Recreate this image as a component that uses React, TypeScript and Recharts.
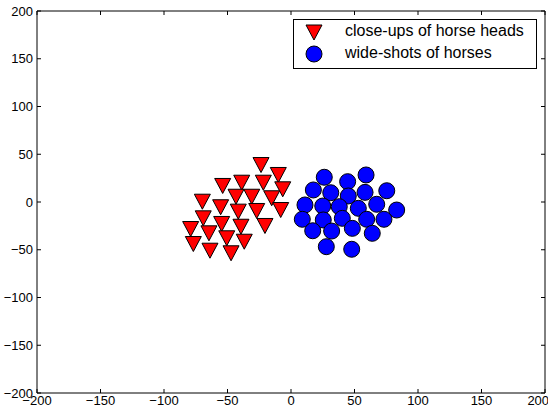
import React from "react";
import {
  ScatterChart,
  Scatter,
  XAxis,
  YAxis,
  Legend,
} from "recharts";

// close-ups of horse heads (red triangles)
const headsX = [-23.6, -10.0, -38.8, -53.8, -21.8, -6.5, -43.3, -30.9, -15.2, -69.8, -55.4, -41.5, -27.0, -8.1, -69.1, -54.6, -39.4, -20.5, -79.0, -64.6, -50.6, -36.8, -76.9, -63.8, -47.2];
const headsY = [38.7, 28.3, 20.2, 16.8, 20.2, 13.3, 5.5, 5.5, 3.9, 0.3, -5.5, -10.1, -9.4, -8.4, -17.1, -23.0, -25.9, -25.1, -28.3, -32.8, -38.0, -41.6, -44.0, -51.0, -53.7];

// wide-shots of horses (blue circles)
const widesX = [26.2, 44.6, 59.1, 17.6, 31.3, 45.1, 58.3, 75.4, 11.0, 25.0, 38.0, 53.0, 67.5, 83.2, 8.9, 25.4, 40.4, 59.6, 73.2, 17.1, 32.0, 48.3, 64.0, 27.8, 47.8];
const widesY = [25.9, 21.3, 28.3, 12.6, 9.7, 6.3, 10.1, 11.8, -3.1, -4.2, -4.9, -6.6, -2.4, -8.4, -18.1, -18.8, -17.1, -18.1, -18.1, -30.1, -30.4, -27.6, -32.8, -46.8, -49.5];

const ticks = [-200, -150, -100, -50, 0, 50, 100, 150, 200];

const headsData = headsX.map((x, i) => ({ x, y: headsY[i] }));
const widesData = widesX.map((x, i) => ({ x, y: widesY[i] }));

const FONT = "'Liberation Sans', Arial, Helvetica, sans-serif";
const fmt = (v: number) => String(v).replace("-", "\u2212");

const Triangle = (props: any) => {
  const { cx, cy } = props;
  const w = 8;
  const h = 7.5;
  return (
    <path
      d={`M${cx - w},${cy - h} L${cx + w},${cy - h} L${cx},${cy + h} Z`}
      fill="#ff0000"
      stroke="#000"
      strokeWidth={1}
    />
  );
};

const Circle = (props: any) => {
  const { cx, cy } = props;
  return <circle cx={cx} cy={cy} r={8} fill="#0000ff" stroke="#000" strokeWidth={1} />;
};

const renderLegend = () => (
  <div
    style={{
      width: 244,
      height: 50,
      border: "1px solid #000",
      background: "#fff",
      boxSizing: "border-box",
      fontFamily: FONT,
      fontSize: 16,
      color: "#000",
      position: "relative",
    }}
  >
    <svg width={40} height={50} style={{ position: "absolute", left: 0, top: 0 }}>
      <path d="M12,5 L28,5 L20,20 Z" fill="#ff0000" stroke="#000" strokeWidth={1} />
      <circle cx={20} cy={34} r={8} fill="#0000ff" stroke="#000" strokeWidth={1} />
    </svg>
    <div style={{ position: "absolute", left: 51, top: 2, whiteSpace: "nowrap" }}>
      close-ups of horse heads
    </div>
    <div style={{ position: "absolute", left: 51, top: 24, whiteSpace: "nowrap" }}>
      wide-shots of horses
    </div>
  </div>
);

const tickStyle = { fontSize: 13, fill: "#000", fontFamily: FONT };

export default function App() {
  return (
    <div style={{ position: "absolute", left: 0, top: 0, background: "#fff" }}>
      <ScatterChart
        width={548}
        height={415}
        margin={{ top: 10, right: 2, bottom: 0, left: 0 }}
      >
        <XAxis
          type="number"
          dataKey="x"
          domain={[-200, 200]}
          ticks={ticks}
          allowDataOverflow
          height={22}
          tickSize={-4}
          tickMargin={7}
          tick={tickStyle}
          tickFormatter={fmt}
          axisLine={{ stroke: "#000" }}
          tickLine={{ stroke: "#000" }}
        />
        <XAxis
          xAxisId="top"
          orientation="top"
          type="number"
          dataKey="x"
          domain={[-200, 200]}
          ticks={ticks}
          allowDataOverflow
          height={1}
          tickSize={-4}
          tickFormatter={() => ""}
          axisLine={{ stroke: "#000" }}
          tickLine={{ stroke: "#000" }}
        />
        <YAxis
          type="number"
          dataKey="y"
          domain={[-200, 200]}
          ticks={ticks}
          allowDataOverflow
          width={37}
          tickSize={-4}
          tickMargin={8}
          tick={tickStyle}
          tickFormatter={fmt}
          axisLine={{ stroke: "#000" }}
          tickLine={{ stroke: "#000" }}
        />
        <YAxis
          yAxisId="right"
          orientation="right"
          type="number"
          dataKey="y"
          domain={[-200, 200]}
          ticks={ticks}
          allowDataOverflow
          width={1}
          tickSize={-4}
          tickFormatter={() => ""}
          axisLine={{ stroke: "#000" }}
          tickLine={{ stroke: "#000" }}
        />
        <Legend
          content={renderLegend}
          layout="vertical"
          align="center"
          verticalAlign="middle"
          wrapperStyle={{ position: "absolute", top: 19, left: 293, width: 244 }}
        />
        {/* empty series so the top and right frame axes get drawn */}
        <Scatter
          xAxisId="top"
          yAxisId="right"
          data={[]}
          legendType="none"
          isAnimationActive={false}
        />
        <Scatter
          name="close-ups of horse heads"
          data={headsData}
          shape={Triangle}
          isAnimationActive={false}
        />
        <Scatter
          name="wide-shots of horses"
          data={widesData}
          shape={Circle}
          isAnimationActive={false}
        />
      </ScatterChart>
    </div>
  );
}
